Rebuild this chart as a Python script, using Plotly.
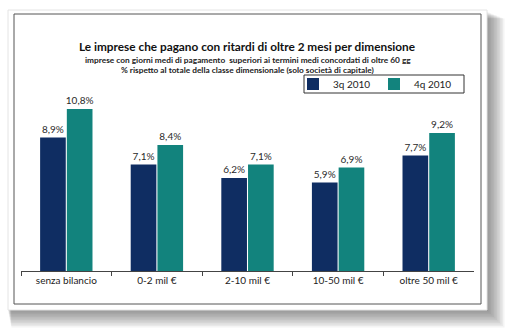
import plotly.graph_objects as go

categories = ["senza bilancio", "0-2 mil €", "2-10 mil €", "10-50 mil €", "oltre 50 mil €"]
series_names = ["3q 2010", "4q 2010"]
values_3q = [8.9, 7.1, 6.2, 5.9, 7.7]
values_4q = [10.8, 8.4, 7.1, 6.9, 9.2]
colors = ["#0F2D62", "#12837D"]

W, H = 511, 334
def fx(x):
    return x / W
def fy(y):
    return 1 - y / H

def lab(v):
    return ("%.1f" % v).replace(".", ",") + "%"

fig = go.Figure()
for name, vals, col in zip(series_names, [values_3q, values_4q], colors):
    fig.add_trace(go.Bar(
        x=categories, y=vals, name=name, marker=dict(color=col, line=dict(width=0)),
        text=[lab(v) for v in vals], textposition="outside", cliponaxis=False,
        constraintext="none",
        textfont=dict(family="Lato", size=10, color="#2a2a2a"),
    ))

shapes = []
# soft shadow around the card
for i in range(12):
    d = i * 1.5
    shapes.append(dict(type="rect", xref="paper", yref="paper", layer="below",
                       x0=fx(8 + d * 0.2), x1=fx(488 + d), y0=fy(311 + d), y1=fy(12 + d * 0.4),
                       fillcolor="rgba(50,50,50,0.055)", line=dict(width=0)))
# white card
shapes.append(dict(type="rect", xref="paper", yref="paper", layer="below",
                   x0=fx(8), x1=fx(487), y0=fy(310), y1=fy(10),
                   fillcolor="white", line=dict(color="#e4e4e4", width=1)))
# inner chart border
shapes.append(dict(type="rect", xref="paper", yref="paper", layer="below",
                   x0=fx(14), x1=fx(481), y0=fy(304), y1=fy(14),
                   fillcolor="white", line=dict(color="#555555", width=1)))
# legend box
shapes.append(dict(type="rect", xref="paper", yref="paper", layer="above",
                   x0=fx(304), x1=fx(464), y0=fy(93), y1=fy(75),
                   fillcolor="rgba(0,0,0,0)", line=dict(color="#333333", width=1)))

annotations = [
    dict(text="<b>Le imprese che pagano con ritardi di oltre 2 mesi per dimensione</b>",
         x=fx(247), y=fy(37), xref="paper", yref="paper", showarrow=False, xanchor="center",
         font=dict(family="Lato", size=11.8, color="#111111")),
    dict(text="<b>imprese con giorni medi di pagamento  superiori ai termini medi concordati di oltre 60 gg</b>",
         x=fx(248), y=fy(53), xref="paper", yref="paper", showarrow=False, xanchor="center",
         font=dict(family="Lato", size=8.3, color="#222222")),
    dict(text="<b>% rispetto al totale della classe dimensionale (solo società di capitale)</b>",
         x=fx(247), y=fy(63), xref="paper", yref="paper", showarrow=False, xanchor="center",
         font=dict(family="Lato", size=8.3, color="#222222")),
]

fig.update_layout(
    width=W, height=H, template="none",
    margin=dict(l=0, r=0, t=0, b=0),
    paper_bgcolor="white", plot_bgcolor="rgba(0,0,0,0)",
    barmode="group", bargap=0.41, bargroupgap=0.04,
    showlegend=True,
    legend=dict(orientation="h", x=fx(293), y=fy(84), xanchor="left", yanchor="middle",
                font=dict(family="Lato", size=10, color="#222222"),
                bgcolor="rgba(0,0,0,0)", borderwidth=0, entrywidth=36, entrywidthmode="pixels",
                itemwidth=30),
    shapes=shapes, annotations=annotations,
    xaxis=dict(domain=[fx(21), fx(474)], automargin=False, showgrid=False,
               showline=True, linecolor="#444444", linewidth=1,
               ticks="outside", tickson="boundaries", ticklen=4, tickcolor="#444444",
               tickfont=dict(family="Lato", size=10, color="#222222")),
    yaxis=dict(domain=[fy(271), fy(95)], range=[0, 176 / 15], automargin=False,
               showgrid=False, showline=False, showticklabels=False, ticks="", zeroline=False),
)

fig.write_html("out.html")
